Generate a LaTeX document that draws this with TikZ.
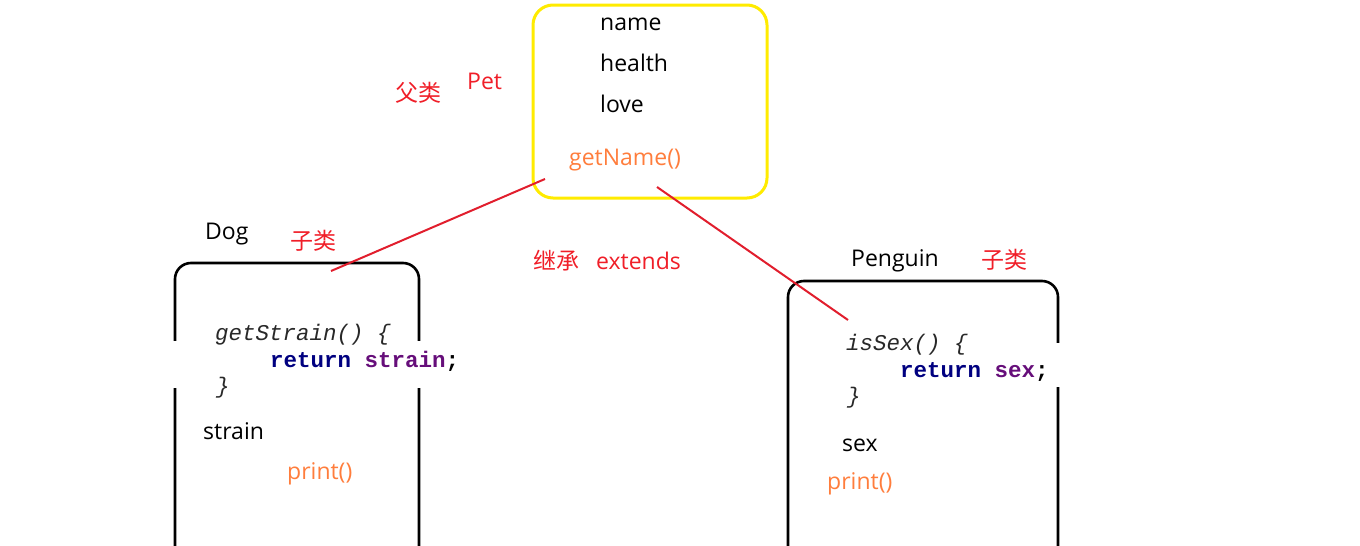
\documentclass[tikz,border=0pt]{standalone}
\usepackage{fontspec}
\setmainfont{Open Sans}
\newfontfamily\cjk{Noto Sans CJK SC}
\newfontfamily\codefont{Liberation Mono}
\definecolor{redtxt}{RGB}{240,30,40}
\definecolor{redline}{RGB}{225,30,45}
\definecolor{orangetxt}{RGB}{255,125,60}
\definecolor{yellowbox}{RGB}{255,235,0}
\definecolor{kwnavy}{RGB}{0,0,128}
\definecolor{fieldpurple}{RGB}{102,14,122}
\definecolor{codegray}{RGB}{40,40,40}
\begin{document}
\begin{tikzpicture}[x=1pt,y=-1pt,
  lbl/.style={anchor=base west,inner sep=0pt,font=\fontsize{23}{23}\selectfont},
  redlbl/.style={lbl,text=redtxt},
  cjklbl/.style={anchor=base west,inner sep=0pt,text=redtxt,font=\cjk\fontsize{23}{23}\selectfont},
  orlbl/.style={lbl,text=orangetxt},
  code/.style={anchor=base west,inner sep=0pt,font=\codefont\fontsize{22.5}{22.5}\selectfont},
  box/.style={line width=2.6pt,rounded corners=16pt},
  inh/.style={draw=redline,line width=2pt}]
\useasboundingbox (0,0) rectangle (1360,546);
\clip (0,0) rectangle (1360,546);
% parent box
\draw[box,draw=yellowbox,line width=3pt,rounded corners=20pt] (533,5) rectangle (767,198);
\node[lbl] (name) at (600,30) {name};
\node[lbl] (health) at (600,71) {health};
\node[lbl] (love) at (600,112) {love};
\node[orlbl] (getname) at (569,165) {getName()};
\node[cjklbl] (fulei) at (395,101) {父类};
\node[redlbl] (pet) at (467,89) {Pet};
% Dog box
\draw[box] (175,580) -- (175,263) -- (419,263) -- (419,580);
\node[lbl] (dog) at (205,239) {Dog};
\node[cjklbl] (zilei1) at (290,249) {子类};
% Penguin box
\draw[box] (788,580) -- (788,281) -- (1058,281) -- (1058,580);
\fill[white] (845,240) rectangle (950,270);
\node[lbl] (penguin) at (851,266) {Penguin};
\node[cjklbl] (zilei2) at (981,268) {子类};
% extends label
\node[cjklbl] (jicheng) at (533,269) {继承};
\node[redlbl] (extends) at (596,269) {extends};
% code patches
\fill[white] (171,341) rectangle (522,388);
\node[code,text=codegray] (getstrain) at (215,340) {\itshape getStrain() \{};
\node[code] (retstrain) at (270,367) {\bfseries\textcolor{kwnavy}{return} \textcolor{fieldpurple}{strain};};
\node[code,text=codegray] (close1) at (216,393) {\itshape \}};
\fill[white] (800,343) rectangle (1062,387);
\node[code,text=codegray] (issex) at (846,350) {\itshape isSex() \{};
\node[code] (retsex) at (900,377) {\bfseries\textcolor{kwnavy}{return} \textcolor{fieldpurple}{sex};};
\node[code,text=codegray] (close2) at (847,403) {\itshape \}};
% fields / methods
\node[lbl] (strain) at (203,439) {strain};
\node[orlbl] (print1) at (287,479) {print()};
\node[lbl] (sex) at (842,451) {sex};
\node[orlbl] (print2) at (827,489) {print()};
% inheritance lines
\coordinate (p1) at (545,179);
\coordinate (d1) at (331,271);
\coordinate (p2) at (657,187);
\coordinate (g1) at (848,320);
\draw[inh] (p1) -- (d1);
\draw[inh] (p2) -- (g1);
\end{tikzpicture}
\end{document}
